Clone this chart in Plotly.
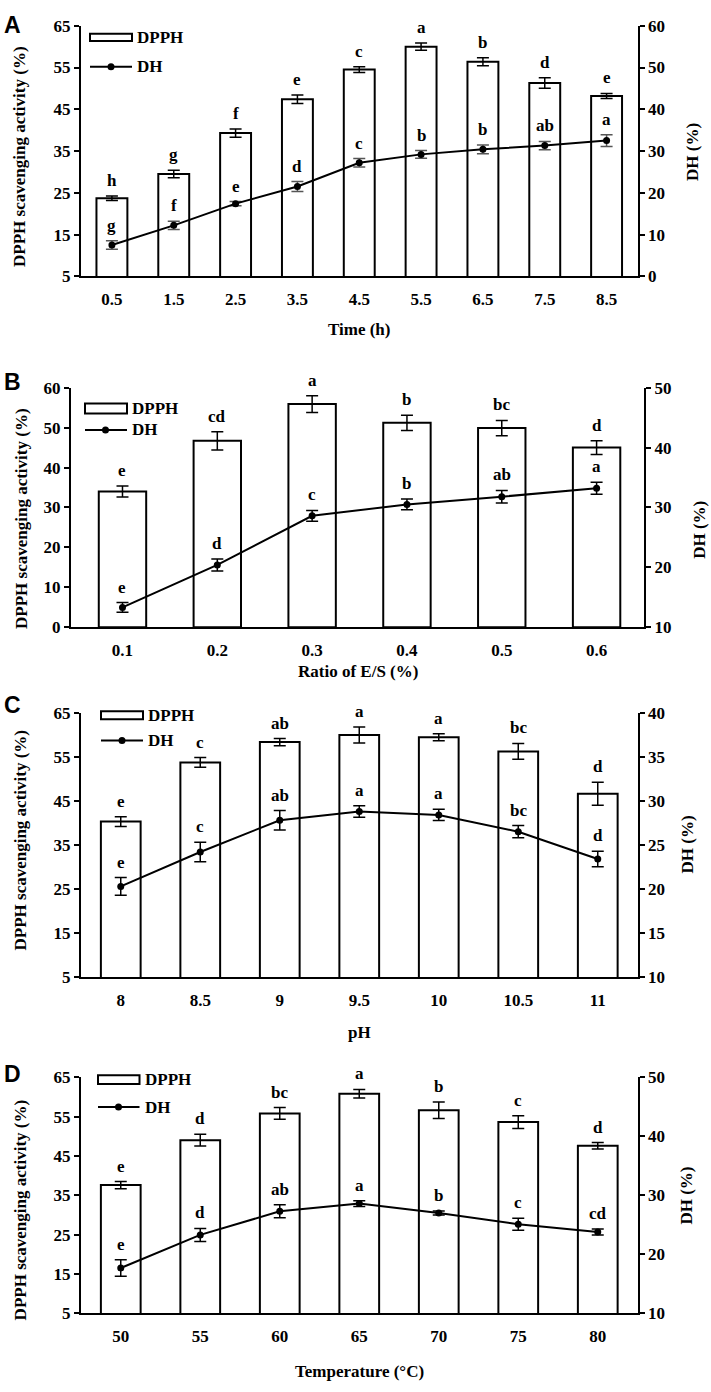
import plotly.graph_objects as go

W, H = 711, 1392

# ---------------- data ----------------
# Panel A: hydrolysis time
time_labels = ["0.5", "1.5", "2.5", "3.5", "4.5", "5.5", "6.5", "7.5", "8.5"]
dpph_time = [23.7, 29.5, 39.3, 47.4, 54.5, 60.0, 56.4, 51.3, 48.2]
dpph_time_err = [0.55, 0.9, 1.0, 1.0, 0.7, 0.85, 0.95, 1.25, 0.6]
dh_time = [7.5, 12.2, 17.4, 21.5, 27.2, 29.2, 30.4, 31.3, 32.5]
dh_time_err = [1.0, 1.0, 0.5, 1.2, 1.0, 0.9, 1.05, 1.0, 1.4]
dpph_time_letters = ["h", "g", "f", "e", "c", "a", "b", "d", "e"]
dh_time_letters = ["g", "f", "e", "d", "c", "b", "b", "ab", "a"]

# Panel B: ratio of E/S
ratio_labels = ["0.1", "0.2", "0.3", "0.4", "0.5", "0.6"]
dpph_ratio = [34.0, 46.7, 55.9, 51.2, 49.9, 45.0]
dpph_ratio_err = [1.4, 2.3, 2.1, 1.9, 1.9, 1.7]
dh_ratio = [13.3, 20.4, 28.6, 30.5, 31.8, 33.2]
dh_ratio_err = [0.8, 1.0, 0.9, 0.9, 1.05, 1.0]
dpph_ratio_letters = ["e", "cd", "a", "b", "bc", "d"]
dh_ratio_letters = ["e", "d", "c", "b", "ab", "a"]

# Panel C: pH
ph_labels = ["8", "8.5", "9", "9.5", "10", "10.5", "11"]
dpph_ph = [40.3, 53.7, 58.3, 59.9, 59.4, 56.2, 46.6]
dpph_ph_err = [1.1, 1.1, 0.8, 1.8, 0.8, 1.8, 2.6]
dh_ph = [20.3, 24.2, 27.8, 28.8, 28.4, 26.5, 23.4]
dh_ph_err = [1.0, 1.1, 1.1, 0.65, 0.63, 0.7, 0.87]
dpph_ph_letters = ["e", "c", "ab", "a", "a", "bc", "d"]
dh_ph_letters = ["e", "c", "ab", "a", "a", "bc", "d"]

# Panel D: temperature
temp_labels = ["50", "55", "60", "65", "70", "75", "80"]
dpph_temp = [37.6, 49.0, 55.8, 60.8, 56.6, 53.6, 47.6]
dpph_temp_err = [0.9, 1.5, 1.5, 1.1, 2.1, 1.6, 0.8]
dh_temp = [17.7, 23.3, 27.3, 28.6, 27.0, 25.1, 23.8]
dh_temp_err = [1.4, 1.1, 1.1, 0.5, 0.35, 1.0, 0.5]
dpph_temp_letters = ["e", "d", "bc", "a", "b", "c", "d"]
dh_temp_letters = ["e", "d", "ab", "a", "b", "c", "cd"]

# ---------------- layout helpers ----------------
SERIF = "Liberation Serif, Times New Roman, serif"
SANS = "Liberation Sans, Arial, sans-serif"


def px(x):
    return x / W


def py(y):
    return 1 - y / H


panels = [
    dict(cats=time_labels, dpph=dpph_time, dpph_err=dpph_time_err, dh=dh_time, dh_err=dh_time_err,
         dl=dpph_time_letters, hl=dh_time_letters, xdom=(81, 637.5), ydom=(17, 271), xpad=0.0,
         yl=(5, 65, 10), yr=(0, 60, 10), xtitle="Time (h)", xtitle_y=325, letter="A", letter_y=16,
         ltitle=(20, 150), rtitle=(692, 145), dh_err_color="#555555",
         leg=dict(rect=(90, 132, 25, 32.5), line_y=58.5, mark_x=111, text_x=135)),
    dict(cats=ratio_labels, dpph=dpph_ratio, dpph_err=dpph_ratio_err, dh=dh_ratio, dh_err=dh_ratio_err,
         dl=dpph_ratio_letters, hl=dh_ratio_letters, xdom=(71, 644), ydom=(384, 626.7), xpad=0.043,
         yl=(0, 60, 10), yr=(10, 50, 10), xtitle="Ratio of E/S (%)", xtitle_y=672, letter="B", letter_y=378,
         ltitle=(22, 517), rtitle=(700, 528), dh_err_color="black",
         leg=dict(rect=(85, 127, 400, 410), line_y=426.7, mark_x=105.5, text_x=130)),
    dict(cats=ph_labels, dpph=dpph_ph, dpph_err=dpph_ph_err, dh=dh_ph, dh_err=dh_ph_err,
         dl=dpph_ph_letters, hl=dh_ph_letters, xdom=(81, 637.5), ydom=(713.3, 981.7), xpad=0.0,
         yl=(5, 65, 10), yr=(10, 40, 5), xtitle="pH", xtitle_y=1038, letter="C", letter_y=706,
         ltitle=(20, 843), rtitle=(687, 847), dh_err_color="black",
         leg=dict(rect=(101, 143, 712, 720), line_y=741.7, mark_x=122, text_x=146)),
    dict(cats=temp_labels, dpph=dpph_temp, dpph_err=dpph_temp_err, dh=dh_temp, dh_err=dh_temp_err,
         dl=dpph_temp_letters, hl=dh_temp_letters, xdom=(81, 637.5), ydom=(1083, 1322.5), xpad=0.0,
         yl=(5, 65, 10), yr=(10, 50, 10), xtitle="Temperature (°C)", xtitle_y=1381, letter="D", letter_y=1080,
         ltitle=(20, 1218), rtitle=(687, 1203), dh_err_color="black",
         leg=dict(rect=(98, 139.5, 1081, 1090), line_y=1113.3, mark_x=118.5, text_x=143)),
]

fig = go.Figure()
layout = dict(width=W, height=H, margin=dict(l=0, r=0, t=0, b=0),
              paper_bgcolor="white", plot_bgcolor="rgba(0,0,0,0)", showlegend=False,
              font=dict(family=SERIF, color="black"))
annotations = []
shapes = []

tickfont = dict(family=SERIF, size=17, color="black", weight="bold")
letterfont = dict(family=SERIF, size=17, color="black", weight="bold")
titlefont = dict(family=SERIF, size=17, color="black", weight="bold")

for i, p in enumerate(panels):
    xn = "x" if i == 0 else f"x{i + 1}"
    yln = f"y{2 * i + 1}" if i > 0 else "y"
    yrn = f"y{2 * i + 2}"
    xkey = "xaxis" if i == 0 else f"xaxis{i + 1}"
    ylkey = "yaxis" if i == 0 else f"yaxis{2 * i + 1}"
    yrkey = f"yaxis{2 * i + 2}"
    n = len(p["cats"])

    fig.add_trace(go.Bar(
        x=p["cats"], y=p["dpph"], width=0.5, name="DPPH",
        marker=dict(color="white", line=dict(color="black", width=2)),
        error_y=dict(type="data", array=p["dpph_err"], color="black", thickness=1.5, width=6),
        xaxis=xn, yaxis=yln))
    fig.add_trace(go.Scatter(
        x=p["cats"], y=p["dh"], mode="lines+markers", name="DH",
        line=dict(color="black", width=2), marker=dict(color="black", size=7),
        error_y=dict(type="data", array=p["dh_err"], color=p["dh_err_color"], thickness=1.5, width=6),
        xaxis=xn, yaxis=yrn))

    lo, hi, st = p["yl"]
    rlo, rhi, rst = p["yr"]
    ydom = [py(p["ydom"][1]), py(p["ydom"][0])]
    layout[xkey] = dict(domain=[px(p["xdom"][0]), px(p["xdom"][1])], anchor=yln, type="category",
                        range=[-0.5 - p["xpad"], n - 0.5], showline=True, linewidth=2, linecolor="black",
                        ticks="", showgrid=False, zeroline=False, tickfont=tickfont, ticklabelstandoff=6,
                        fixedrange=True)
    layout[ylkey] = dict(domain=ydom, anchor=xn, range=[lo, hi],
                         tickvals=list(range(lo, hi + 1, st)), showline=True, linewidth=2, linecolor="black",
                         ticks="outside", ticklen=5, tickwidth=2, tickcolor="black", showgrid=False,
                         zeroline=False, tickfont=tickfont)
    layout[yrkey] = dict(domain=ydom, anchor=xn, overlaying=yln, side="right", range=[rlo, rhi],
                         tickvals=list(range(rlo, rhi + 1, rst)), showline=True, linewidth=2, linecolor="black",
                         ticks="outside", ticklen=5, tickwidth=2, tickcolor="black", showgrid=False,
                         zeroline=False, tickfont=tickfont)

    # significance letters (x given as category index)
    for j, (v, e, t) in enumerate(zip(p["dpph"], p["dpph_err"], p["dl"])):
        annotations.append(dict(x=j, y=v + e, xref=xn, yref=yln, text=t, showarrow=False,
                                yanchor="bottom", yshift=4, font=letterfont))
    for j, (v, e, t) in enumerate(zip(p["dh"], p["dh_err"], p["hl"])):
        annotations.append(dict(x=j, y=v + e, xref=xn, yref=yrn, text=t, showarrow=False,
                                yanchor="bottom", yshift=4, font=letterfont))

    # axis titles
    xc = (p["xdom"][0] + p["xdom"][1]) / 2
    annotations.append(dict(x=px(xc), y=py(p["xtitle_y"]), xref="paper", yref="paper", text=p["xtitle"],
                            showarrow=False, xanchor="center", yanchor="middle", font=titlefont))
    annotations.append(dict(x=px(p["ltitle"][0]), y=py(p["ltitle"][1]), xref="paper", yref="paper",
                            text="DPPH scavenging activity (%)", textangle=-90, showarrow=False,
                            xanchor="center", yanchor="middle", font=titlefont))
    annotations.append(dict(x=px(p["rtitle"][0]), y=py(p["rtitle"][1]), xref="paper", yref="paper",
                            text="DH (%)", textangle=-90, showarrow=False,
                            xanchor="center", yanchor="middle", font=titlefont))
    # panel letter
    annotations.append(dict(x=px(2), y=py(p["letter_y"]), xref="paper", yref="paper", text=p["letter"],
                            showarrow=False, xanchor="left", yanchor="middle",
                            font=dict(family=SANS, size=23, color="black", weight="bold")))

    # legend
    lg = p["leg"]
    x0, x1, y0, y1 = lg["rect"]
    shapes.append(dict(type="rect", xref="paper", yref="paper", x0=px(x0), x1=px(x1), y0=py(y1), y1=py(y0),
                       line=dict(color="black", width=2), fillcolor="white"))
    shapes.append(dict(type="line", xref="paper", yref="paper", x0=px(x0), x1=px(x1),
                       y0=py(lg["line_y"]), y1=py(lg["line_y"]), line=dict(color="black", width=2)))
    shapes.append(dict(type="circle", xref="paper", yref="paper", xsizemode="pixel", ysizemode="pixel",
                       xanchor=px(lg["mark_x"]), yanchor=py(lg["line_y"]), x0=-3.5, x1=3.5, y0=-3.5, y1=3.5,
                       fillcolor="black", line=dict(color="black", width=0)))
    annotations.append(dict(x=px(lg["text_x"]), y=py((y0 + y1) / 2), xref="paper", yref="paper", text="DPPH",
                            showarrow=False, xanchor="left", yanchor="middle", font=titlefont))
    annotations.append(dict(x=px(lg["text_x"]), y=py(lg["line_y"]), xref="paper", yref="paper", text="DH",
                            showarrow=False, xanchor="left", yanchor="middle", font=titlefont))

layout["annotations"] = annotations
layout["shapes"] = shapes
fig.update_layout(**layout)

fig.write_html("out.html", config={"displayModeBar": False},
               post_script="document.body.style.margin='0';document.body.style.overflow='hidden';")
